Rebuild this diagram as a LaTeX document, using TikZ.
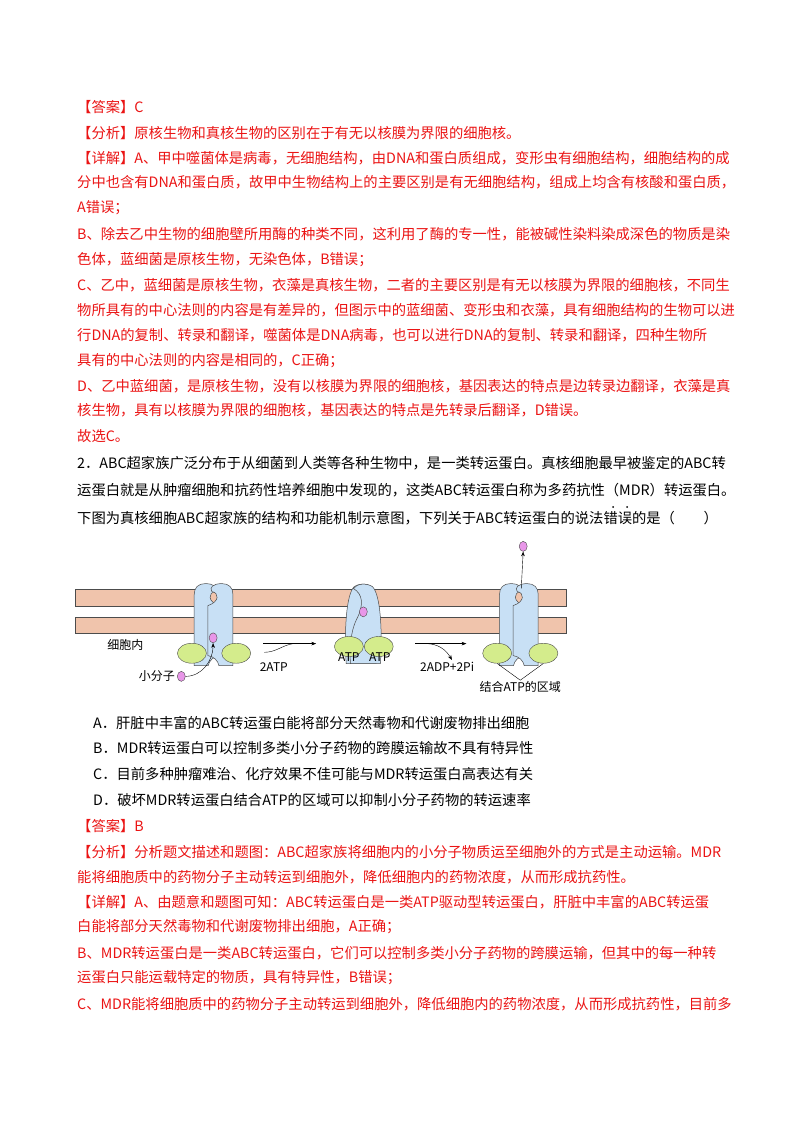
\documentclass[tikz,border=0pt]{standalone}
\usepackage{fontspec}
\setmainfont{Noto Sans CJK SC}
\usetikzlibrary{positioning, arrows.meta, shapes.geometric}
\definecolor{ans_red}{RGB}{235,20,20}
\definecolor{mem_peach}{RGB}{240,196,172}
\definecolor{prot_blue}{RGB}{200,224,245}
\definecolor{atp_green}{RGB}{212,236,140}
\definecolor{mol_pink}{RGB}{232,150,232}
\tikzset{
  redline/.style={anchor=west, inner sep=0pt, text=ans_red, font=\fontsize{14.3}{14.3}\selectfont},
  blackline/.style={anchor=west, inner sep=0pt, text=black, font=\fontsize{14.3}{14.3}\selectfont},
  membrane/.style={draw=black!70, fill=mem_peach, line width=0.5pt},
  protein/.style={draw=black!70, fill=prot_blue, line width=0.5pt},
  atpsite/.style={draw=black!70, fill=atp_green, ellipse, minimum width=29pt, minimum height=20pt, inner sep=0pt},
  molecule/.style={draw=black!70, fill=mol_pink, ellipse, minimum width=8pt, minimum height=10pt, inner sep=0pt},
  label/.style={inner sep=0pt, font=\fontsize{12}{12}\selectfont},
  closedhalf/.pic={
    \path[protein] (192,646) -- (192,575) .. controls (192,568) and (196,564) .. (203,564)
      .. controls (212,564) and (216,568) .. (213,572) .. controls (206,573) and (205,582) .. (217,586)
      -- (217,636) .. controls (211,637) and (207,641) .. (206,646) -- cycle;
  },
  openhalf/.pic={
    \path[protein] (344,644) .. controls (342,610) and (344,575) .. (352,567)
      .. controls (358,563) and (368,564) .. (371,569) .. controls (362,574) and (360,585) .. (368,600)
      .. controls (374,612) and (375,630) .. (374,644) -- cycle;
  }
}
\begin{document}
\begin{tikzpicture}[x=1pt, y=-1pt, >=Stealth]
  \fill[white] (0,0) rectangle (800,1132);
  \useasboundingbox (0,0) rectangle (800,1132);

  % --- First answer block ---
  \node[redline] (ans1) at (77,107) {【答案】C};
  \node[redline] (ana1) at (77,133) {【分析】原核生物和真核生物的区别在于有无以核膜为界限的细胞核。};
  \node[redline] (det1) at (77,158) {【详解】A、甲中噬菌体是病毒，无细胞结构，由DNA和蛋白质组成，变形虫有细胞结构，细胞结构的成};
  \node[redline] (det2) at (77,182) {分中也含有DNA和蛋白质，故甲中生物结构上的主要区别是有无细胞结构，组成上均含有核酸和蛋白质，};
  \node[redline] (det3) at (77,208) {A错误；};
  \node[redline] (det4) at (77,234) {B、除去乙中生物的细胞壁所用酶的种类不同，这利用了酶的专一性，能被碱性染料染成深色的物质是染};
  \node[redline] (det5) at (77,260) {色体，蓝细菌是原核生物，无染色体，B错误；};
  \node[redline] (det6) at (77,285) {C、乙中，蓝细菌是原核生物，衣藻是真核生物，二者的主要区别是有无以核膜为界限的细胞核，不同生};
  \node[redline] (det7) at (77,310) {物所具有的中心法则的内容是有差异的，但图示中的蓝细菌、变形虫和衣藻，具有细胞结构的生物可以进};
  \node[redline] (det8) at (77,335) {行DNA的复制、转录和翻译，噬菌体是DNA病毒，也可以进行DNA的复制、转录和翻译，四种生物所};
  \node[redline] (det9) at (77,361) {具有的中心法则的内容是相同的，C正确；};
  \node[redline] (det10) at (77,386) {D、乙中蓝细菌，是原核生物，没有以核膜为界限的细胞核，基因表达的特点是边转录边翻译，衣藻是真};
  \node[redline] (det11) at (77,410) {核生物，具有以核膜为界限的细胞核，基因表达的特点是先转录后翻译，D错误。};
  \node[redline] (sel1) at (77,436) {故选C。};

  % --- Question 2 ---
  \node[blackline] (q1) at (77,463) {2．ABC超家族广泛分布于从细菌到人类等各种生物中，是一类转运蛋白。真核细胞最早被鉴定的ABC转};
  \node[blackline] (q2) at (77,490) {运蛋白就是从肿瘤细胞和抗药性培养细胞中发现的，这类ABC转运蛋白称为多药抗性（MDR）转运蛋白。};
  \node[blackline] (q3) at (77,518) {下图为真核细胞ABC超家族的结构和功能机制示意图，下列关于ABC转运蛋白的说法错误的是（\quad\quad）};
  \fill (613,507) circle (1pt) (627,507) circle (1pt);

  \begin{scope}[xshift=2.2pt, yshift=-19.6pt, scale=0.963]
  % --- Membrane ---
  \path[membrane] (76,592) rectangle (586,609);
  \path[membrane] (76,621) rectangle (586,637);

  % --- Proteins ---
  \pic at (0,0) {closedhalf};
  \pic[xscale=-1] at (439,0) {closedhalf};
  \pic at (0,0) {openhalf};
  \pic[xscale=-1] at (750,0) {openhalf};
  \pic at (317,0) {closedhalf};
  \pic[xscale=-1] at (756,0) {closedhalf};

  % --- ATP sites and molecules ---
  \node[atpsite] (g1) at (197,658) {};
  \node[atpsite] (g2) at (243,658) {};
  \node[atpsite] (g3) at (360,651) {};
  \node[atpsite] (g4) at (391,651) {};
  \node[atpsite] (g5) at (514,658) {};
  \node[atpsite] (g6) at (562,658) {};
  \node[molecule] (m1) at (219,642) {};
  \node[molecule] (m2) at (375,615) {};
  \node[molecule] (m3) at (541,547) {};
  \node[molecule] (m0) at (186,682) {};

  % --- Labels ---
  \node[label] (inside) at (128,649) {细胞内};
  \node[label, left=2pt of m0] (small) {小分子};
  \node[label] (atp2) at (282,672) {2ATP};
  \node[label] (atpa) at (360,662) {ATP};
  \node[label] (atpb) at (392,662) {ATP};
  \node[label] (adp) at (462,672) {2ADP+2Pi};
  \node[label] (site) at (538,693) {结合ATP的区域};

  % --- Connectors ---
  \coordinate (s1) at (271,648);
  \coordinate (e1) at (326,648);
  \coordinate (s2) at (429,648);
  \coordinate (e2) at (482,648);
  \coordinate (b2) at (467,665);
  \coordinate (p3) at (539,591);
  \coordinate (sj) at (538,686);
  \draw[->] (s1) -- (e1);
  \draw (272,657) to[out=0,in=190] (302,648);
  \draw[->] (s2) -- (e2);
  \draw[->] (440,648) to[out=0,in=120] (b2);
  \draw[->] (m0.east) to[out=0,in=-90] (m1.south);
  \draw[->] (p3) -- (m3.south);
  \draw (g5.south) -- (sj) -- (g6.south);
  \end{scope}

  % --- Options ---
  \node[blackline] (oa) at (93,723) {A．肝脏中丰富的ABC转运蛋白能将部分天然毒物和代谢废物排出细胞};
  \node[blackline] (ob) at (93,748) {B．MDR转运蛋白可以控制多类小分子药物的跨膜运输故不具有特异性};
  \node[blackline] (oc) at (93,774) {C．目前多种肿瘤难治、化疗效果不佳可能与MDR转运蛋白高表达有关};
  \node[blackline] (od) at (93,800) {D．破坏MDR转运蛋白结合ATP的区域可以抑制小分子药物的转运速率};

  % --- Second answer block ---
  \node[redline] (ans2) at (77,826) {【答案】B};
  \node[redline] (ana2) at (77,852) {【分析】分析题文描述和题图：ABC超家族将细胞内的小分子物质运至细胞外的方式是主动运输。MDR};
  \node[redline] (ana3) at (77,877) {能将细胞质中的药物分子主动转运到细胞外，降低细胞内的药物浓度，从而形成抗药性。};
  \node[redline] (det21) at (77,902) {【详解】A、由题意和题图可知：ABC转运蛋白是一类ATP驱动型转运蛋白，肝脏中丰富的ABC转运蛋};
  \node[redline] (det22) at (77,927) {白能将部分天然毒物和代谢废物排出细胞，A正确；};
  \node[redline] (det23) at (77,953) {B、MDR转运蛋白是一类ABC转运蛋白，它们可以控制多类小分子药物的跨膜运输，但其中的每一种转};
  \node[redline] (det24) at (77,978) {运蛋白只能运载特定的物质，具有特异性，B错误；};
  \node[redline] (det25) at (77,1004) {C、MDR能将细胞质中的药物分子主动转运到细胞外，降低细胞内的药物浓度，从而形成抗药性，目前多};
\end{tikzpicture}
\end{document}
